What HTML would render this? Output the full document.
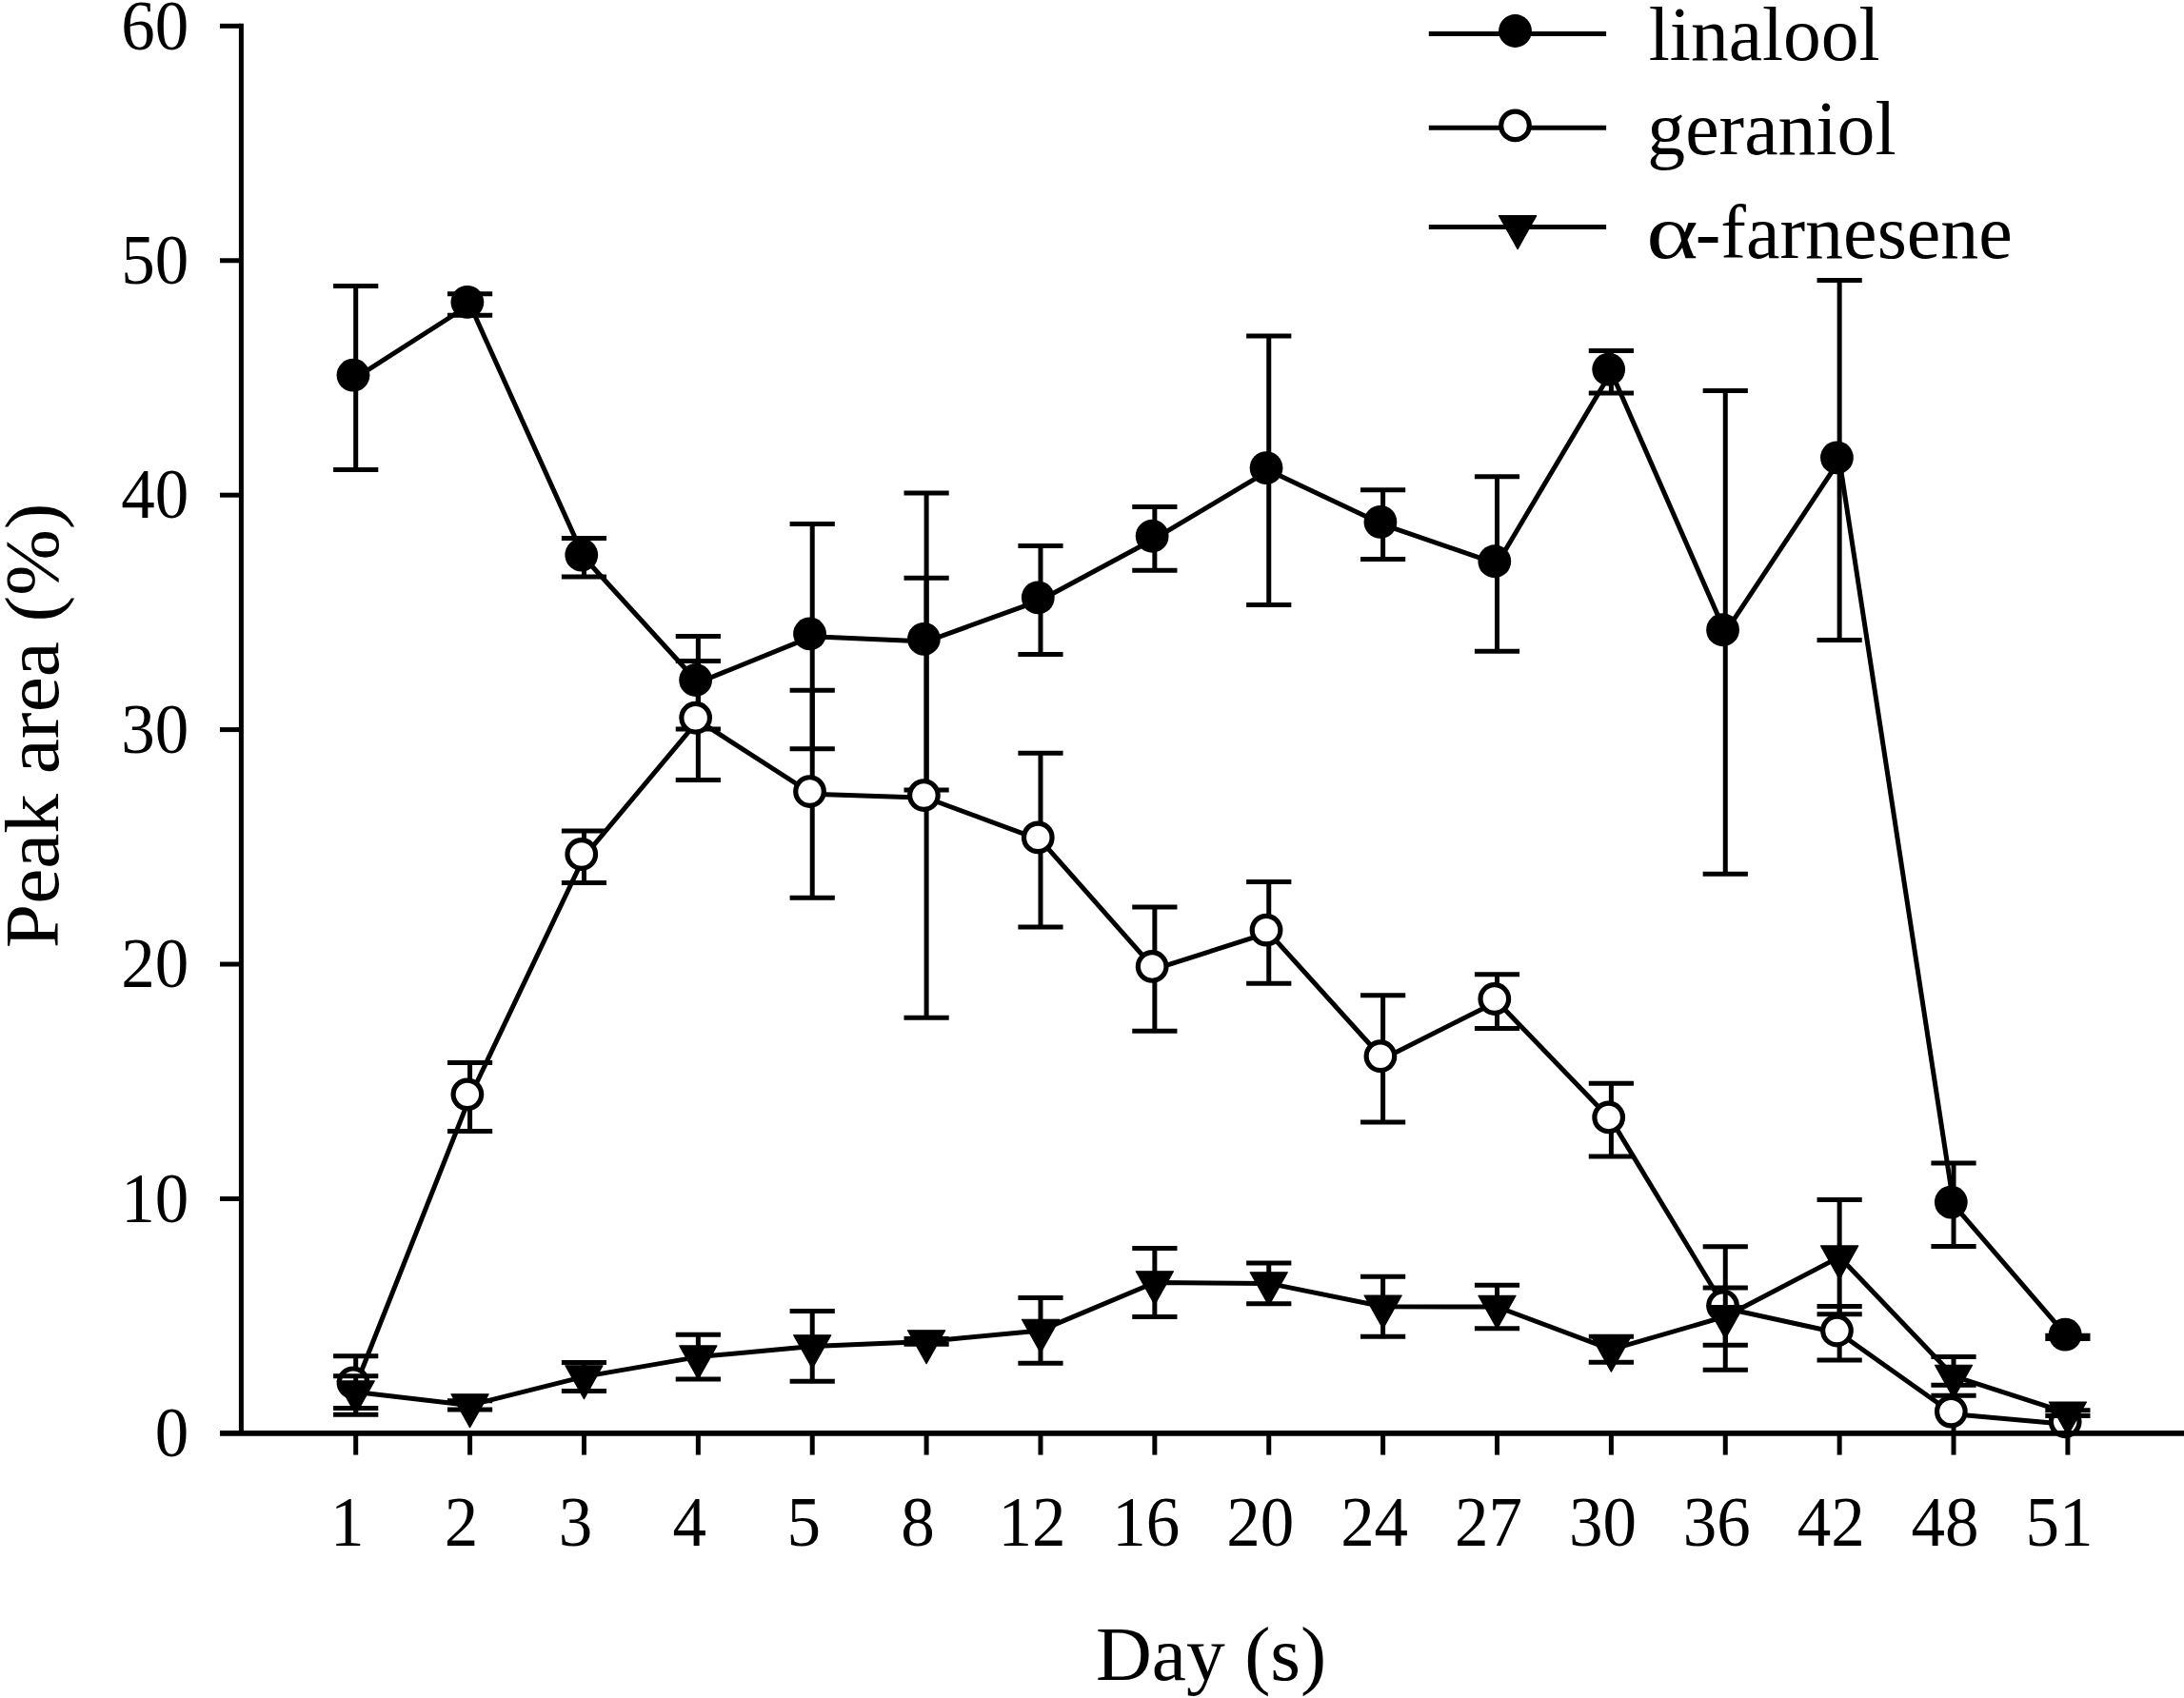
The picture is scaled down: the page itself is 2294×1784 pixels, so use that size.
<!DOCTYPE html>
<html lang="en"><head><meta charset="utf-8"><title>Peak area by day</title>
<style>html,body{margin:0;padding:0;background:#fff;}body{width:2294px;height:1784px;overflow:hidden;}svg{display:block;}text{font-family:"Liberation Serif","Times New Roman",Times,serif;fill:#000;}.l{stroke:#000;stroke-width:5;stroke-linecap:round;stroke-linejoin:round;fill:none;}.e{stroke-linecap:square;}.a{stroke-linecap:butt;}.t{font-size:71px;}.b{font-size:80px;}</style></head><body>
<svg width="2294" height="1784" viewBox="0 0 2294 1784">
<rect width="2294" height="1784" fill="#fff"/>
<g id="linalool">
<path class="l e" d="M373.7 300.4V493.4M352.6 300.4H394.8M352.6 493.4H394.8"/>
<path class="l e" d="M493.58 308.85V331.15M472.48 308.85H514.68M472.48 331.15H514.68"/>
<path class="l e" d="M613.46 565.6V605.9M592.36 565.6H634.56M592.36 605.9H634.56"/>
<path class="l e" d="M733.34 668.5V765.9M712.24 668.5H754.44M712.24 765.9H754.44"/>
<path class="l e" d="M853.22 550.5V786.8M832.12 550.5H874.32M832.12 786.8H874.32"/>
<path class="l e" d="M973.1 518V830M952 518H994.2M952 830H994.2"/>
<path class="l e" d="M1092.98 573.6V687.5M1071.88 573.6H1114.08M1071.88 687.5H1114.08"/>
<path class="l e" d="M1212.86 532.6V599.3M1191.76 532.6H1233.96M1191.76 599.3H1233.96"/>
<path class="l e" d="M1332.74 353.1V635.5M1311.64 353.1H1353.84M1311.64 635.5H1353.84"/>
<path class="l e" d="M1452.62 514.7V587.5M1431.52 514.7H1473.72M1431.52 587.5H1473.72"/>
<path class="l e" d="M1572.5 500.7V684.2M1551.4 500.7H1593.6M1551.4 684.2H1593.6"/>
<path class="l e" d="M1692.38 368.5V413M1671.28 368.5H1713.48M1671.28 413H1713.48"/>
<path class="l e" d="M1812.26 410.6V918.3M1791.16 410.6H1833.36M1791.16 918.3H1833.36"/>
<path class="l e" d="M1932.14 294.5V672.5M1911.04 294.5H1953.24M1911.04 672.5H1953.24"/>
<path class="l e" d="M2052.02 1222V1309.5M2030.92 1222H2073.12M2030.92 1309.5H2073.12"/>
<path class="l e" d="M2171.9 1403.3V1406.5M2150.8 1403.3H2193M2150.8 1406.5H2193"/>
<polyline class="l" points="373.7,396.9 493.58,320 613.46,585.75 733.34,717.2 853.22,668.65 973.1,674 1092.98,630.55 1212.86,565.95 1332.74,494.3 1452.62,551.1 1572.5,592.45 1692.38,390.75 1812.26,664.45 1932.14,483.5 2052.02,1265.75 2171.9,1404.9"/>
<circle cx="371" cy="394.2" r="17.4" fill="#000"/>
<circle cx="490.88" cy="317.3" r="17.4" fill="#000"/>
<circle cx="610.76" cy="583.05" r="17.4" fill="#000"/>
<circle cx="730.64" cy="714.5" r="17.4" fill="#000"/>
<circle cx="850.52" cy="665.95" r="17.4" fill="#000"/>
<circle cx="970.4" cy="671.3" r="17.4" fill="#000"/>
<circle cx="1090.28" cy="627.85" r="17.4" fill="#000"/>
<circle cx="1210.16" cy="563.25" r="17.4" fill="#000"/>
<circle cx="1330.04" cy="491.6" r="17.4" fill="#000"/>
<circle cx="1449.92" cy="548.4" r="17.4" fill="#000"/>
<circle cx="1569.8" cy="589.75" r="17.4" fill="#000"/>
<circle cx="1689.68" cy="388.05" r="17.4" fill="#000"/>
<circle cx="1809.56" cy="661.75" r="17.4" fill="#000"/>
<circle cx="1929.44" cy="480.8" r="17.4" fill="#000"/>
<circle cx="2049.32" cy="1263.05" r="17.4" fill="#000"/>
<circle cx="2169.2" cy="1402.2" r="17.4" fill="#000"/>
</g>
<g id="geraniol">
<path class="l e" d="M373.7 1424.85V1486.15M352.6 1424.85H394.8M352.6 1486.15H394.8"/>
<path class="l e" d="M493.58 1116.5V1188.6M472.48 1116.5H514.68M472.48 1188.6H514.68"/>
<path class="l e" d="M613.46 872.9V927.5M592.36 872.9H634.56M592.36 927.5H634.56"/>
<path class="l e" d="M733.34 694.5V819.4M712.24 694.5H754.44M712.24 819.4H754.44"/>
<path class="l e" d="M853.22 725.3V943.2M832.12 725.3H874.32M832.12 943.2H874.32"/>
<path class="l e" d="M973.1 607.3V1069.2M952 607.3H994.2M952 1069.2H994.2"/>
<path class="l e" d="M1092.98 791.2V974M1071.88 791.2H1114.08M1071.88 974H1114.08"/>
<path class="l e" d="M1212.86 953.1V1083.2M1191.76 953.1H1233.96M1191.76 1083.2H1233.96"/>
<path class="l e" d="M1332.74 926.4V1033.3M1311.64 926.4H1353.84M1311.64 1033.3H1353.84"/>
<path class="l e" d="M1452.62 1045.8V1179.1M1431.52 1045.8H1473.72M1431.52 1179.1H1473.72"/>
<path class="l e" d="M1572.5 1023.8V1080.6M1551.4 1023.8H1593.6M1551.4 1080.6H1593.6"/>
<path class="l e" d="M1692.38 1138.3V1215M1671.28 1138.3H1713.48M1671.28 1215H1713.48"/>
<path class="l e" d="M1812.26 1309.8V1439.2M1791.16 1309.8H1833.36M1791.16 1439.2H1833.36"/>
<path class="l e" d="M1932.14 1372.6V1428.9M1911.04 1372.6H1953.24M1911.04 1428.9H1953.24"/>
<path class="l e" d="M2052.02 1455.3V1505.9M2030.92 1455.3H2073.12"/>
<polyline class="l" points="373.7,1455.5 493.58,1152.55 613.46,900.2 733.34,756.95 853.22,834.25 973.1,838.25 1092.98,882.6 1212.86,1018.15 1332.74,979.85 1452.62,1112.45 1572.5,1052.2 1692.38,1176.65 1812.26,1374.5 1932.14,1400.75 2052.02,1485.8 2171.9,1496.5"/>
<circle cx="371" cy="1452.8" r="14.8" fill="#fff" stroke="#000" stroke-width="5.2"/>
<circle cx="490.88" cy="1149.85" r="14.8" fill="#fff" stroke="#000" stroke-width="5.2"/>
<circle cx="610.76" cy="897.5" r="14.8" fill="#fff" stroke="#000" stroke-width="5.2"/>
<circle cx="730.64" cy="754.25" r="14.8" fill="#fff" stroke="#000" stroke-width="5.2"/>
<circle cx="850.52" cy="831.55" r="14.8" fill="#fff" stroke="#000" stroke-width="5.2"/>
<circle cx="970.4" cy="835.55" r="14.8" fill="#fff" stroke="#000" stroke-width="5.2"/>
<circle cx="1090.28" cy="879.9" r="14.8" fill="#fff" stroke="#000" stroke-width="5.2"/>
<circle cx="1210.16" cy="1015.45" r="14.8" fill="#fff" stroke="#000" stroke-width="5.2"/>
<circle cx="1330.04" cy="977.15" r="14.8" fill="#fff" stroke="#000" stroke-width="5.2"/>
<circle cx="1449.92" cy="1109.75" r="14.8" fill="#fff" stroke="#000" stroke-width="5.2"/>
<circle cx="1569.8" cy="1049.5" r="14.8" fill="#fff" stroke="#000" stroke-width="5.2"/>
<circle cx="1689.68" cy="1173.95" r="14.8" fill="#fff" stroke="#000" stroke-width="5.2"/>
<circle cx="1809.56" cy="1371.8" r="14.8" fill="#fff" stroke="#000" stroke-width="5.2"/>
<circle cx="1929.44" cy="1398.05" r="14.8" fill="#fff" stroke="#000" stroke-width="5.2"/>
<circle cx="2049.32" cy="1483.1" r="14.8" fill="#fff" stroke="#000" stroke-width="5.2"/>
<circle cx="2169.2" cy="1493.8" r="14.8" fill="#fff" stroke="#000" stroke-width="5.2"/>
</g>
<g id="farnesene">
<path class="l e" d="M373.7 1445.65V1479.55M352.6 1445.65H394.8M352.6 1479.55H394.8"/>
<path class="l e" d="M493.58 1471.7V1481.1M472.48 1471.7H514.68M472.48 1481.1H514.68"/>
<path class="l e" d="M613.46 1431.4V1461.4M592.36 1431.4H634.56M592.36 1461.4H634.56"/>
<path class="l e" d="M733.34 1402.15V1449.05M712.24 1402.15H754.44M712.24 1449.05H754.44"/>
<path class="l e" d="M853.22 1377.45V1451.35M832.12 1377.45H874.32M832.12 1451.35H874.32"/>
<path class="l e" d="M973.1 1406.6V1412.2M952 1406.6H994.2M952 1412.2H994.2"/>
<path class="l e" d="M1092.98 1363.45V1432.35M1071.88 1363.45H1114.08M1071.88 1432.35H1114.08"/>
<path class="l e" d="M1212.86 1311.4V1383.6M1191.76 1311.4H1233.96M1191.76 1383.6H1233.96"/>
<path class="l e" d="M1332.74 1327V1369.8M1311.64 1327H1353.84M1311.64 1369.8H1353.84"/>
<path class="l e" d="M1452.62 1341.2V1404.2M1431.52 1341.2H1473.72M1431.52 1404.2H1473.72"/>
<path class="l e" d="M1572.5 1350.35V1395.65M1551.4 1350.35H1593.6M1551.4 1395.65H1593.6"/>
<path class="l e" d="M1692.38 1404.3V1431.3M1671.28 1404.3H1713.48M1671.28 1431.3H1713.48"/>
<path class="l e" d="M1812.26 1353.1V1413.3M1791.16 1353.1H1833.36M1791.16 1413.3H1833.36"/>
<path class="l e" d="M1932.14 1260.4V1380.8M1911.04 1260.4H1953.24M1911.04 1380.8H1953.24"/>
<path class="l e" d="M2052.02 1425.55V1466.25M2030.92 1425.55H2073.12M2030.92 1466.25H2073.12"/>
<path class="l e" d="M2171.9 1481.8V1487.6M2150.8 1481.8H2193M2150.8 1487.6H2193"/>
<polyline class="l" points="373.7,1462.6 493.58,1476.4 613.46,1446.4 733.34,1425.6 853.22,1414.4 973.1,1409.4 1092.98,1397.9 1212.86,1347.5 1332.74,1348.4 1452.62,1372.7 1572.5,1373 1692.38,1417.8 1812.26,1383.2 1932.14,1320.6 2052.02,1445.9 2171.9,1484.7"/>
<path d="M354.1 1450.93H393.3L373.7 1485.93Z" fill="#000" stroke="#000" stroke-width="1.2" stroke-linejoin="round"/>
<path d="M473.98 1464.73H513.18L493.58 1499.73Z" fill="#000" stroke="#000" stroke-width="1.2" stroke-linejoin="round"/>
<path d="M593.86 1434.73H633.06L613.46 1469.73Z" fill="#000" stroke="#000" stroke-width="1.2" stroke-linejoin="round"/>
<path d="M713.74 1413.93H752.94L733.34 1448.93Z" fill="#000" stroke="#000" stroke-width="1.2" stroke-linejoin="round"/>
<path d="M833.62 1402.73H872.82L853.22 1437.73Z" fill="#000" stroke="#000" stroke-width="1.2" stroke-linejoin="round"/>
<path d="M953.5 1397.73H992.7L973.1 1432.73Z" fill="#000" stroke="#000" stroke-width="1.2" stroke-linejoin="round"/>
<path d="M1073.38 1386.23H1112.58L1092.98 1421.23Z" fill="#000" stroke="#000" stroke-width="1.2" stroke-linejoin="round"/>
<path d="M1193.26 1335.83H1232.46L1212.86 1370.83Z" fill="#000" stroke="#000" stroke-width="1.2" stroke-linejoin="round"/>
<path d="M1313.14 1336.73H1352.34L1332.74 1371.73Z" fill="#000" stroke="#000" stroke-width="1.2" stroke-linejoin="round"/>
<path d="M1433.02 1361.03H1472.22L1452.62 1396.03Z" fill="#000" stroke="#000" stroke-width="1.2" stroke-linejoin="round"/>
<path d="M1552.9 1361.33H1592.1L1572.5 1396.33Z" fill="#000" stroke="#000" stroke-width="1.2" stroke-linejoin="round"/>
<path d="M1672.78 1406.13H1711.98L1692.38 1441.13Z" fill="#000" stroke="#000" stroke-width="1.2" stroke-linejoin="round"/>
<path d="M1792.66 1371.53H1831.86L1812.26 1406.53Z" fill="#000" stroke="#000" stroke-width="1.2" stroke-linejoin="round"/>
<path d="M1912.54 1308.93H1951.74L1932.14 1343.93Z" fill="#000" stroke="#000" stroke-width="1.2" stroke-linejoin="round"/>
<path d="M2032.42 1434.23H2071.62L2052.02 1469.23Z" fill="#000" stroke="#000" stroke-width="1.2" stroke-linejoin="round"/>
<path d="M2152.3 1473.03H2191.5L2171.9 1508.03Z" fill="#000" stroke="#000" stroke-width="1.2" stroke-linejoin="round"/>
</g>
<g id="axes">
<path class="l a" d="M253.4 24.8V1505.9"/>
<path class="l a" style="stroke-width:5.9" d="M231 1505.9H2294"/>
<path class="l a" d="M231 1259.47H253.4"/>
<path class="l a" d="M231 1013.04H253.4"/>
<path class="l a" d="M231 766.61H253.4"/>
<path class="l a" d="M231 520.18H253.4"/>
<path class="l a" d="M231 273.75H253.4"/>
<path class="l a" d="M231 27.32H253.4"/>
<path class="l a" d="M373.7 1505.9V1528.6"/>
<path class="l a" d="M493.58 1505.9V1528.6"/>
<path class="l a" d="M613.46 1505.9V1528.6"/>
<path class="l a" d="M733.34 1505.9V1528.6"/>
<path class="l a" d="M853.22 1505.9V1528.6"/>
<path class="l a" d="M973.1 1505.9V1528.6"/>
<path class="l a" d="M1092.98 1505.9V1528.6"/>
<path class="l a" d="M1212.86 1505.9V1528.6"/>
<path class="l a" d="M1332.74 1505.9V1528.6"/>
<path class="l a" d="M1452.62 1505.9V1528.6"/>
<path class="l a" d="M1572.5 1505.9V1528.6"/>
<path class="l a" d="M1692.38 1505.9V1528.6"/>
<path class="l a" d="M1812.26 1505.9V1528.6"/>
<path class="l a" d="M1932.14 1505.9V1528.6"/>
<path class="l a" d="M2052.02 1505.9V1528.6"/>
<path class="l a" d="M2171.9 1505.9V1528.6"/>
</g>
<g class="t" text-anchor="end">
<text transform="translate(198.3 1530.1) scale(1 1.03)">0</text>
<text transform="translate(198.3 1283.67) scale(1 1.03)">10</text>
<text transform="translate(198.3 1037.24) scale(1 1.03)">20</text>
<text transform="translate(198.3 790.81) scale(1 1.03)">30</text>
<text transform="translate(198.3 544.38) scale(1 1.03)">40</text>
<text transform="translate(198.3 297.95) scale(1 1.03)">50</text>
<text transform="translate(198.3 51.52) scale(1 1.03)">60</text>
</g>
<g class="t" text-anchor="middle">
<text transform="translate(364.7 1623.8) scale(1 1.03)">1</text>
<text transform="translate(484.58 1623.8) scale(1 1.03)">2</text>
<text transform="translate(604.46 1623.8) scale(1 1.03)">3</text>
<text transform="translate(724.34 1623.8) scale(1 1.03)">4</text>
<text transform="translate(844.22 1623.8) scale(1 1.03)">5</text>
<text transform="translate(964.1 1623.8) scale(1 1.03)">8</text>
<text transform="translate(1083.98 1623.8) scale(1 1.03)">12</text>
<text transform="translate(1203.86 1623.8) scale(1 1.03)">16</text>
<text transform="translate(1323.74 1623.8) scale(1 1.03)">20</text>
<text transform="translate(1443.62 1623.8) scale(1 1.03)">24</text>
<text transform="translate(1563.5 1623.8) scale(1 1.03)">27</text>
<text transform="translate(1683.38 1623.8) scale(1 1.03)">30</text>
<text transform="translate(1803.26 1623.8) scale(1 1.03)">36</text>
<text transform="translate(1923.14 1623.8) scale(1 1.03)">42</text>
<text transform="translate(2043.02 1623.8) scale(1 1.03)">48</text>
<text transform="translate(2162.9 1623.8) scale(1 1.03)">51</text>
</g>
<text class="b" transform="translate(1151 1764.7) scale(1.019 1)">Day (s)</text>
<text style="font-size:81px" transform="translate(60.9 996.2) rotate(-90) scale(1.03 1)">Peak area (%)</text>
<g id="legend">
<path class="l a" d="M1500.8 35.5H1687.1"/>
<path class="l a" d="M1500.8 134.3H1687.1"/>
<path class="l a" d="M1500.8 238.5H1687.1"/>
<circle cx="1591.5" cy="32.5" r="17.4" fill="#000"/>
<circle cx="1591.5" cy="131.9" r="14.8" fill="#fff" stroke="#000" stroke-width="5.2"/>
<path d="M1574.5 226.63H1613.7L1594.1 261.63Z" fill="#000" stroke="#000" stroke-width="1.2" stroke-linejoin="round"/>
<text class="b" transform="translate(1731.7 62.5) scale(0.994 1)">linalool</text>
<text class="b" transform="translate(1730.3 161.9) scale(0.997 1)">geraniol</text>
<text class="b" transform="translate(1729.3 270.8) scale(1.3 1)">α</text>
<text class="b" x="1780.7" y="270.8">-farnesene</text>
</g>
</svg></body></html>
